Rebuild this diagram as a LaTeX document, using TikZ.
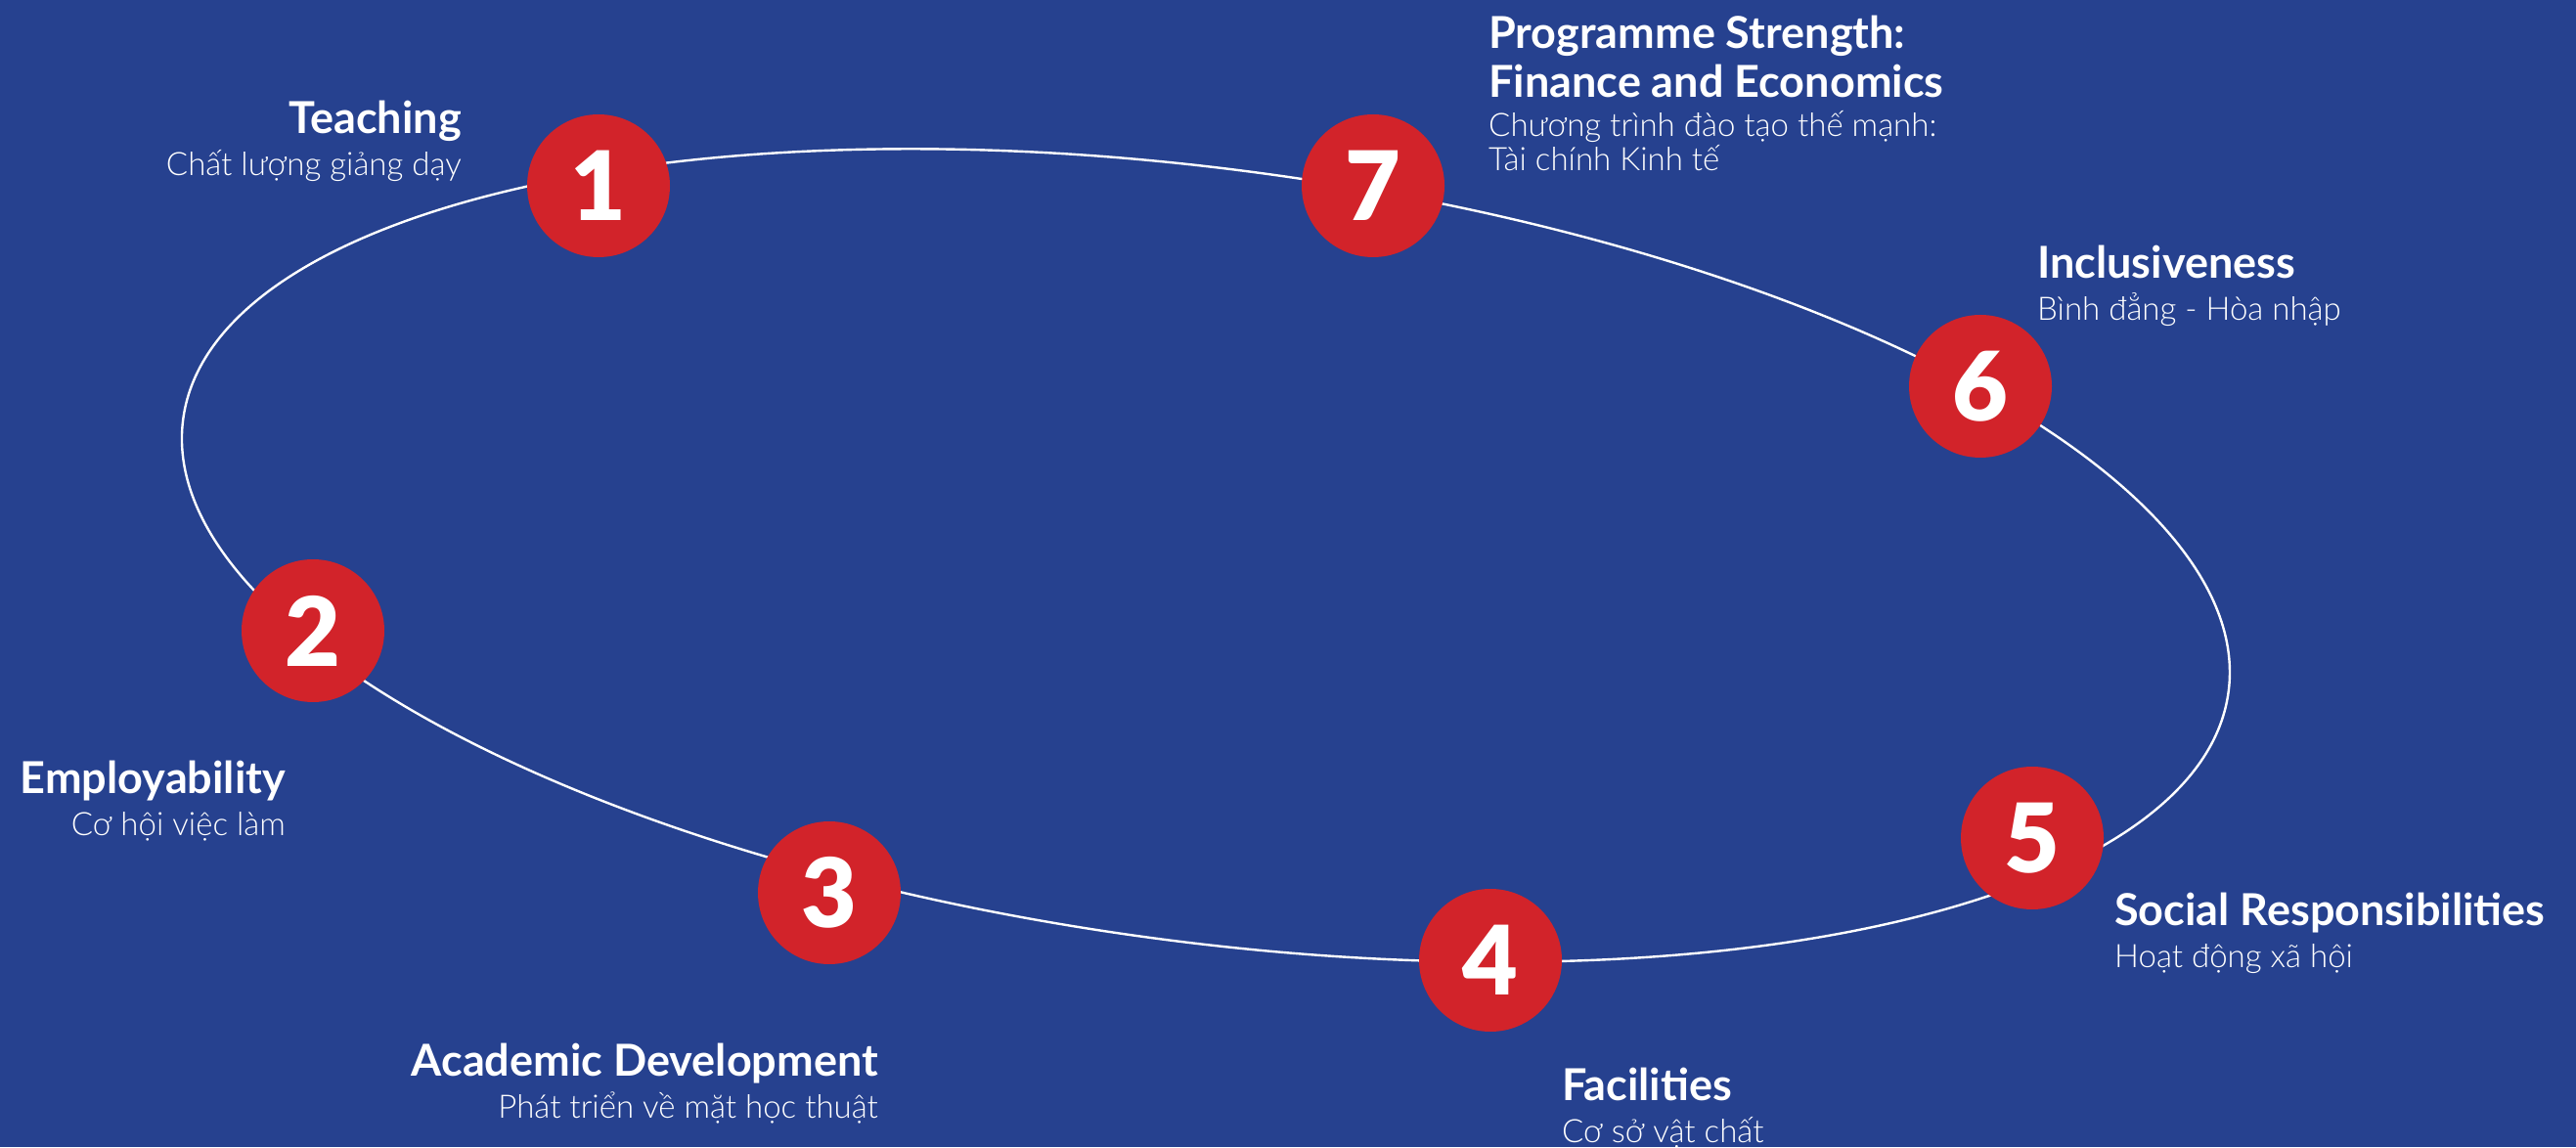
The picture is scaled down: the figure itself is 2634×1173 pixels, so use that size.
\documentclass[tikz,border=0pt]{standalone}
\usepackage{fontspec}
\setmainfont{Lato}
\newfontfamily\lightfont{Lato Light}
\newfontfamily\heavyfont{Lato Black}
\definecolor{uebblue}{HTML}{26418F}
\definecolor{uebred}{HTML}{D2232A}
\begin{document}
\begin{tikzpicture}[x=1pt,y=1pt,
  num/.style={circle,fill=uebred,text=white,minimum size=146pt,inner sep=0pt,
    font={\fontsize{98}{98}\selectfont\heavyfont}},
  ttl/.style={text=white,inner sep=0pt,font={\fontsize{45}{50}\selectfont\bfseries}},
  sub/.style={text=white,inner sep=0pt,font={\fontsize{33}{35}\selectfont\lightfont}},
  ring/.style={draw=white,line width=2.4pt}]
\fill[uebblue] (0,0) rectangle (2634,1173);
\useasboundingbox (0,0) rectangle (2634,1173);
\coordinate (o) at (1233,605);
\draw[ring,rotate around={-7.6:(o)}] (o) ellipse [x radius=1055,y radius=395];
\def\topic#1#2#3#4#5{
\node[ttl,anchor=base #1] (#2t) at (#3) {#4};
\node[sub,anchor=base #1,yshift=-43] (#2s) at (#3) {#5};
}
\node[num] (n1) at (612,983) {1};
\node[num] (n2) at (320,528) {2};
\node[num] (n3) at (848,260) {3};
\node[num] (n4) at (1524,191) {4};
\node[num] (n5) at (2078,316) {5};
\node[num] (n6) at (2025,778) {6};
\node[num] (n7) at (1404,983) {7};
\topic{east}{teach}{472,1036}{Teaching}{Chất lượng giảng dạy}
\topic{east}{employ}{292,361}{Employability}{Cơ hội việc làm}
\topic{east}{acad}{898,73}{Academic Development}{Phát triển về mặt học thuật}
\topic{west}{facil}{1597,48}{Facilities}{Cơ sở vật chất}
\topic{west}{social}{2162,226}{Social Responsibilities}{Hoạt động xã hội}
\topic{west}{incl}{2083,888}{Inclusiveness}{Bình đẳng - Hòa nhập}
\node[ttl,anchor=base west] (progt) at (1522,1123) {Programme Strength:};
\node[ttl,anchor=base west] (fint) at (1522,1073) {Finance and Economics};
\node[sub,anchor=base west] (progs) at (1522,1033) {Chương trình đào tạo thế mạnh:};
\node[sub,anchor=base west] (fins) at (1522,998) {Tài chính Kinh tế};
\end{tikzpicture}
\end{document}
